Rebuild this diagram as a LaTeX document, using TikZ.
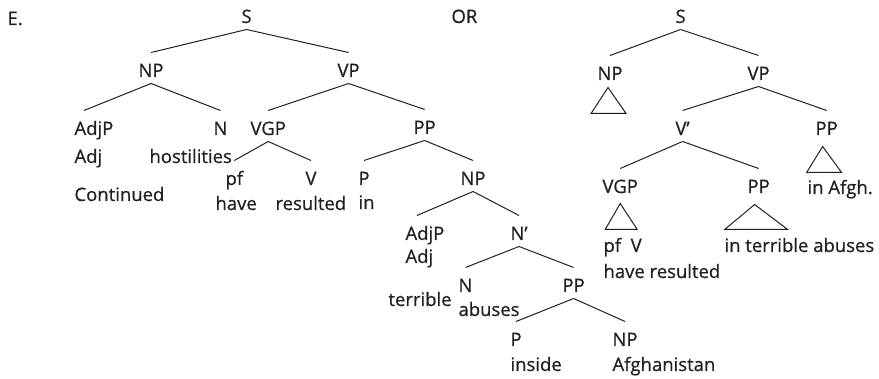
\documentclass[tikz,border=0pt]{standalone}
\usepackage{fontspec}
\setmainfont{Open Sans}[FakeBold=0.6]
\usepackage{xcolor}
\definecolor{ink}{HTML}{231F20}
\usetikzlibrary{positioning}

\begin{document}
\begin{tikzpicture}[x=1pt,y=-1pt,line width=1pt,draw=ink,
   every node/.style={font=\fontsize{18.5}{22}\selectfont,text=ink,anchor=base west,
      inner xsep=0pt,inner ysep=6pt,text height=18pt,text depth=0pt}]
\useasboundingbox (0,0) rectangle (879,379);
% left tree
\node (e) at (7,25) {E.};
\node (s) at (241,23) {S};
\node (or) at (451,23) {OR};
\node (np) at (138,77) {NP};
\node (vp) at (337,77) {VP};
\node (adjp) at (74,135) {AdjP};
\node (n) at (213,135) {N};
\node (vgp) at (250,135) {VGP};
\node (pp) at (413,134) {PP};
\node (adj) at (74,163) {Adj};
\node (host) at (149,163) {hostilities};
\node (cont) at (74,201) {Continued};
\node (pf) at (225,185) {pf};
\node (v) at (305,185) {V};
\node (have) at (215,210) {have};
\node (res) at (275,210) {resulted};
\node (p) at (358,185) {P};
\node (np2) at (460,185) {NP};
\node (in) at (358,209) {in};
\node (adjp2) at (405,240) {AdjP};
\node (nbar) at (510,240) {N’};
\node (adj2) at (405,263) {Adj};
\node (n2) at (458,292) {N};
\node (pp2) at (562,292) {PP};
\node (terr) at (388,306) {terrible};
\node (abus) at (458,316) {abuses};
\node (p2) at (510,346) {P};
\node (np3) at (612,346) {NP};
\node (ins) at (510,371) {inside};
\node (afg) at (612,371) {Afghanistan};
\draw (s.south)--(np.north);
\draw (s.south)--(vp.north);
\draw (np.south)--([xshift=-10pt]adjp.north);
\draw (np.south)--(n.north);
\draw (vp.south)--(vgp.north);
\draw (vp.south)--(pp.north);
\draw (vgp.south)--(pf.north);
\draw (vgp.south)--(v.north);
\draw (pp.south)--(p.north);
\draw (pp.south)--(np2.north);
\draw (np2.south)--([xshift=-8pt]adjp2.north);
\draw (np2.south)--(nbar.north);
\draw (nbar.south)--(n2.north);
\draw (nbar.south)--(pp2.north);
\draw (pp2.south)--(p2.north);
\draw (pp2.south)--(np3.north);
% right tree
\node (rs) at (675,23) {S};
\node (rnp) at (597,80) {NP};
\node (rvp) at (747,80) {VP};
\node (vbar) at (675,135) {V’};
\node (rpp) at (815,135) {PP};
\node (afgh) at (807,194) {in Afgh.};
\node (rvgp) at (602,193) {VGP};
\node (rpp2) at (747,193) {PP};
\node (pfv) at (603,252) {pf~~V};
\node (tab) at (724,252) {in terrible abuses};
\node (hr) at (603,278) {have resulted};
\draw (rs.south)--(rnp.north);
\draw (rs.south)--(rvp.north);
\draw (rvp.south)--(vbar.north);
\draw (rvp.south)--(rpp.north);
\draw (vbar.south)--(rvgp.north);
\draw (vbar.south)--(rpp2.north);
\draw (rnp.south) ++(-2,1) -- ++(-17,26) -- ++(35,0) -- cycle;
\draw (rpp.south) ++(-4,5) -- ++(-16,26) -- ++(35,0) -- cycle;
\draw (rvgp.south) ++(0,4) -- ++(-15,26) -- ++(32,0) -- cycle;
\draw (rpp2.south) ++(-4,5) -- ++(-30,25) -- ++(63,0) -- cycle;
\end{tikzpicture}
\end{document}
